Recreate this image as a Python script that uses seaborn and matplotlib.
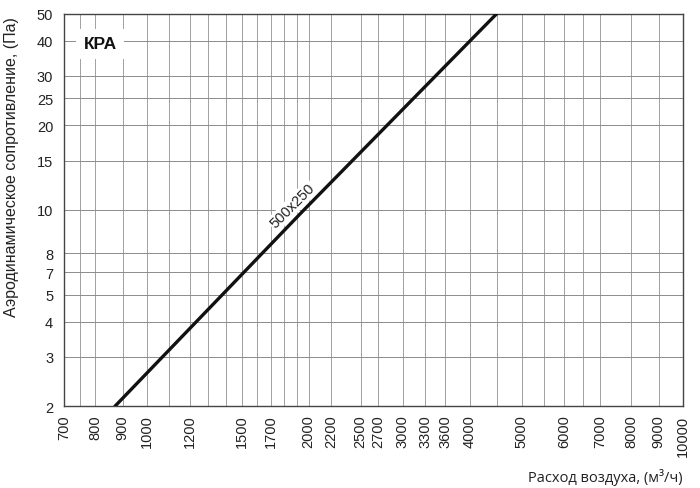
import seaborn as sns
import matplotlib.pyplot as plt
import matplotlib.ticker as mticker
import pandas as pd

# Данные
flow = [870, 1960, 4490]
pressure = [2, 10, 50]
series_name = "500x250"

x_ticks = [700, 800, 900, 1000, 1200, 1500, 1700, 2000, 2200, 2500, 2700,
           3000, 3300, 3600, 4000, 5000, 6000, 7000, 8000, 9000, 10000]
x_extra_grid = [750, 1100, 1300, 1400, 1600, 1800, 1900, 4500, 5500, 6500]
y_ticks = [2, 3, 4, 5, 6, 7, 10, 15, 20, 25, 30, 40, 50]
y_tick_labels = ["2", "3", "4", "5", "7", "8", "10", "15", "20", "25", "30", "40", "50"]

df = pd.DataFrame({"flow": flow, "pressure": pressure})

sns.set_theme(style="white")
plt.rcParams["font.family"] = ["Liberation Sans", "DejaVu Sans"]

fig = plt.figure(figsize=(7, 4.89), dpi=100)
ax = fig.add_axes([0.0919, 0.1671, 0.8839, 0.8029])

sns.lineplot(data=df, x="flow", y="pressure", ax=ax, color="#111111",
             linewidth=2.4, zorder=5)

ax.set_xscale("log")
ax.set_yscale("log")
ax.set_xlim(700, 10000)
ax.set_ylim(2, 50)

ax.xaxis.set_major_locator(mticker.FixedLocator(x_ticks))
ax.xaxis.set_major_formatter(mticker.FixedFormatter([str(v) for v in x_ticks]))
ax.xaxis.set_minor_locator(mticker.FixedLocator(x_extra_grid))
ax.xaxis.set_minor_formatter(mticker.NullFormatter())
ax.yaxis.set_major_locator(mticker.FixedLocator(y_ticks))
ax.yaxis.set_major_formatter(mticker.FixedFormatter(y_tick_labels))
ax.yaxis.set_minor_locator(mticker.NullLocator())

# сетка
ax.grid(True, axis="x", which="both", color="#a0a0a0", linewidth=0.7)
ax.grid(True, axis="y", which="major", color="#8c8c8c", linewidth=0.7)
ax.tick_params(axis="both", which="both", length=0, labelsize=10.5, colors="#222222")
ax.tick_params(axis="x", labelrotation=90, pad=6)
ax.tick_params(axis="y", pad=8)
ax.set_xlabel("")
ax.set_ylabel("")
for s in ax.spines.values():
    s.set_color("#444444")
    s.set_linewidth(1.0)

# подписи
ax.text(0.0577, 0.923, "КРА", transform=ax.transAxes, fontsize=12.5,
        fontweight="bold", ha="center", va="center", color="#111111", zorder=6,
        bbox=dict(boxstyle="square,pad=0.45", fc="white", ec="none"))
ax.text(0.3688, 0.511, series_name, transform=ax.transAxes, fontsize=10.5,
        rotation=45, rotation_mode="anchor", ha="center", va="center",
        color="#222222", zorder=4,
        bbox=dict(boxstyle="square,pad=0.1", fc="white", ec="none"))

fig.text(12 / 700, 1 - 167 / 489, "Аэродинамическое сопротивление, (Па)",
         rotation=90, ha="center", va="center", fontsize=11.5, color="#222222")
fig.text(683 / 700, 1 - 478 / 489, "Расход воздуха, (м³/ч)", ha="right",
         va="center", fontsize=10.5, color="#222222",
         family=["Open Sans", "DejaVu Sans"])

fig.savefig("out.png", dpi=100)
